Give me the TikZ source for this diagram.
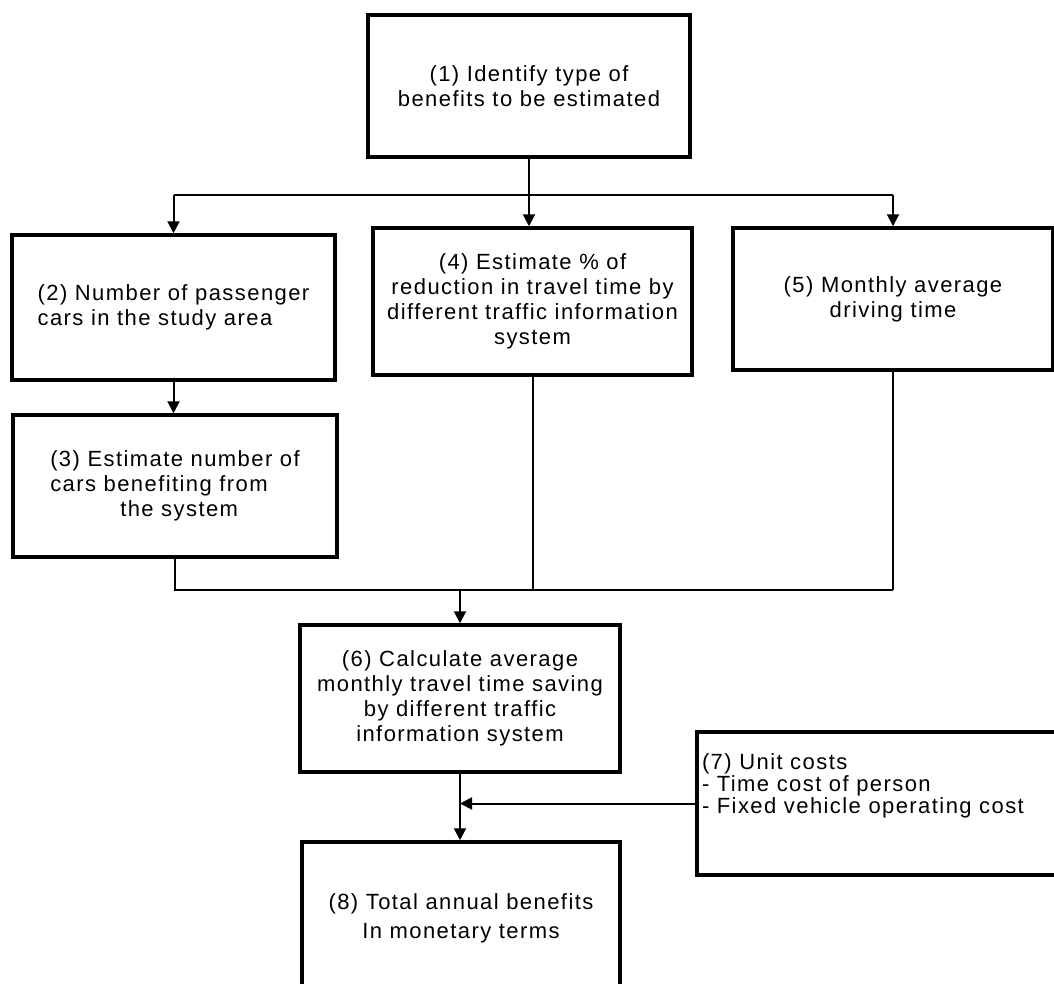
\documentclass[tikz,border=0pt]{standalone}
\usepackage{fontspec}
\setmainfont[LetterSpace=6.5]{Liberation Sans}
\usetikzlibrary{arrows.meta}
\begin{document}
\begin{tikzpicture}[x=1pt,y=-1pt,
  box/.style={draw, line width=3.5pt, inner sep=0pt, font=\fontsize{22}{25}\selectfont, align=center},
  conn/.style={line width=2pt},
  arr/.style={line width=2pt, -{Triangle[length=12pt,width=12pt]}},
  bus/.style={line width=1.6pt}]
\useasboundingbox (0,0) rectangle (1054,983);
\clip (0,0) rectangle (1054,983);
\node[box, minimum width=322pt, minimum height=142pt] (b1) at (529,86) {(1) Identify type of\\benefits to be estimated};
\node[box, align=left, minimum width=323pt, minimum height=145pt] (b2) at (173.5,307.5) {(2) Number of passenger\\cars in the study area};
\node[box, minimum width=319pt, minimum height=147pt] (b4) at (532.5,301.5) {(4) Estimate \% of\\reduction in travel time by\\different traffic information\\system};
\node[box, minimum width=320pt, minimum height=142pt] (b5) at (893,299) {(5) Monthly average\\driving time};
\node[box, align=left, minimum width=324pt, minimum height=142pt] (b3) at (175,486) {(3) Estimate number of\\cars benefiting from\\\hspace*{70pt}the system};
\node[box, minimum width=320pt, minimum height=147pt] (b6) at (460,698.5) {(6) Calculate average\\monthly travel time saving\\by different traffic\\information system};
\node[box, minimum width=373pt, minimum height=143pt] (b7) at (883.5,803.5) {\parbox[c][99pt][t]{363pt}{\raggedright\fontsize{22}{22}\selectfont (7) Unit costs\\- Time cost of person\\- Fixed vehicle operating cost}};
\node[box, minimum width=318pt, minimum height=152pt] (b8) at (461,918) {(8) Total annual benefits\\[4pt]In monetary terms};
% top distribution
\coordinate (t) at (529,195);
\draw[bus] (t -| b2.north) -- (t -| b5.north);
\draw[arr] (b1.south) -- (b1.south |- b4.north);
\draw[arr] (t -| b2.north) -- (b2.north);
\draw[arr] (t -| b5.north) -- (b5.north);
\draw[arr] (b2.south) -- (b2.south |- b3.north);
% collecting bus
\coordinate (m) at (460,590);
\draw[bus] (b3.south) -- (b3.south |- m) -- (m -| b5.south);
\draw[conn] (b4.south) -- (b4.south |- m);
\draw[conn] (b5.south) -- (b5.south |- m);
\draw[arr] (m) -- (m |- b6.north);
\draw[arr] (b6.south) -- (b6.south |- b8.north);
\draw[arr] (b7.west) -- (b6.south |- b7.west);
\end{tikzpicture}
\end{document}
